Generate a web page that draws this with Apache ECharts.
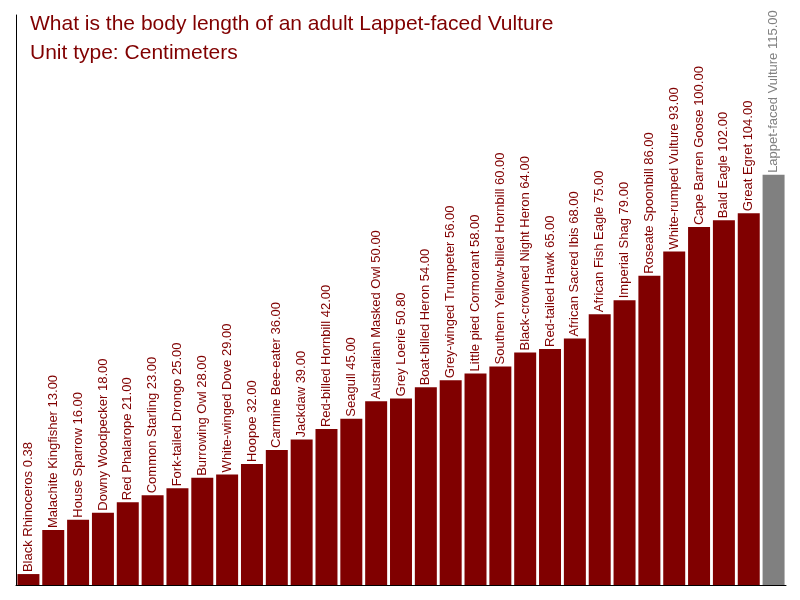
<!DOCTYPE html>
<html>
<head>
<meta charset="utf-8">
<script src="https://cdn.jsdelivr.net/npm/echarts@6/dist/echarts.min.js"></script>
<style>
html,body{margin:0;padding:0;background:#fff;}
#c{width:800px;height:600px;}
</style>
</head>
<body>
<div id="c"></div>
<script>
const titleLine1 = "What is the body length of an adult Lappet-faced Vulture";
const titleLine2 = "Unit type: Centimeters";
const categories = [
  "Black Rhinoceros", "Malachite Kingfisher", "House Sparrow", "Downy Woodpecker",
  "Red Phalarope", "Common Starling", "Fork-tailed Drongo", "Burrowing Owl",
  "White-winged Dove", "Hoopoe", "Carmine Bee-eater", "Jackdaw",
  "Red-billed Hornbill", "Seagull", "Australian Masked Owl", "Grey Loerie",
  "Boat-billed Heron", "Grey-winged Trumpeter", "Little pied Cormorant",
  "Southern Yellow-billed Hornbill", "Black-crowned Night Heron", "Red-tailed Hawk",
  "African Sacred Ibis", "African Fish Eagle", "Imperial Shag", "Roseate Spoonbill",
  "White-rumped Vulture", "Cape Barren Goose", "Bald Eagle", "Great Egret",
  "Lappet-faced Vulture"
];
const lengths = [
  0.38, 13, 16, 18, 21, 23, 25, 28, 29, 32, 36, 39, 42, 45, 50, 50.8, 54, 56, 58,
  60, 64, 65, 68, 75, 79, 86, 93, 100, 102, 104, 115
];
const highlighted = "Lappet-faced Vulture";

const MAROON = "#800000";
const GREY = "#808080";

const data = lengths.map((v, i) => {
  const isH = categories[i] === highlighted;
  return {
    value: v,
    itemStyle: { color: isH ? GREY : MAROON },
    label: { color: isH ? GREY : MAROON }
  };
});

const chart = echarts.init(document.getElementById('c'), null, { renderer: 'canvas' });
chart.setOption({
  animation: false,
  backgroundColor: '#ffffff',
  title: [
    { text: titleLine1, left: 30, top: 14, padding: 0,
      textStyle: { color: MAROON, fontSize: 21, fontWeight: 'normal', fontFamily: 'Liberation Sans, Arial, sans-serif' } },
    { text: titleLine2, left: 30, top: 43, padding: 0,
      textStyle: { color: MAROON, fontSize: 21, fontWeight: 'normal', fontFamily: 'Liberation Sans, Arial, sans-serif' } }
  ],
  grid: { left: 16, right: 14, top: 15, bottom: 15, containLabel: false },
  xAxis: {
    type: 'category',
    data: categories,
    axisLine: { show: true, onZero: false, lineStyle: { color: '#000', width: 1 } },
    axisTick: { show: false },
    axisLabel: { show: false },
    splitLine: { show: false }
  },
  yAxis: {
    type: 'value',
    min: -2.76,
    max: 160.9,
    startValue: -2.76,
    axisLine: { show: true, lineStyle: { color: '#000', width: 1 } },
    axisTick: { show: false },
    axisLabel: { show: false },
    splitLine: { show: false }
  },
  series: [{
    type: 'bar',
    data: data,
    barCategoryGap: '11.5%',
    label: {
      show: true,
      position: 'top',
      rotate: 90,
      align: 'left',
      verticalAlign: 'middle',
      distance: 2,
      fontSize: 13,
      fontFamily: 'Liberation Sans, Arial, sans-serif',
      formatter: p => p.name + ' ' + p.value.toFixed(2)
    }
  }]
});
</script>
</body>
</html>
